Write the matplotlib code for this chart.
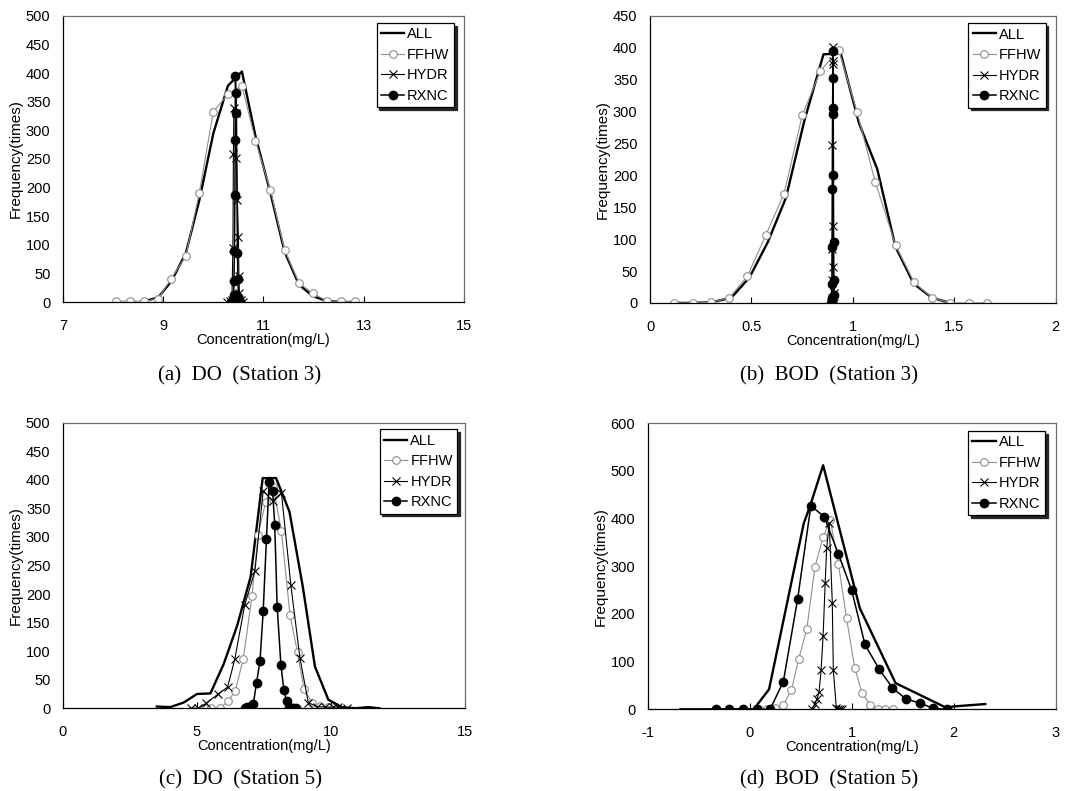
import matplotlib
matplotlib.use("Agg")
import matplotlib.pyplot as plt
from matplotlib.ticker import FuncFormatter

plt.rcParams['font.family'] = ['Liberation Sans', 'DejaVu Sans']

# ---- (a) DO, station 3 ----
a_all_x = [8.61, 8.90, 9.16, 9.45, 9.72, 10.00, 10.29, 10.57, 10.84, 11.14, 11.42, 11.71, 11.99, 12.26, 12.54, 12.82]
a_all_y = [1, 8, 36, 85, 178, 295, 378, 403, 290, 190, 88, 30, 10, 2, 0, 0]
a_ffhw_x = [8.05, 8.33, 8.61, 8.90, 9.16, 9.45, 9.72, 10.00, 10.29, 10.57, 10.84, 11.14, 11.42, 11.71, 11.99, 12.26, 12.54, 12.82]
a_ffhw_y = [1, 2, 1, 6, 41, 80, 191, 333, 363, 378, 282, 195, 91, 33, 15, 2, 1, 1]
a_hydr_x = [10.28, 10.34, 10.37, 10.39, 10.40, 10.41, 10.45, 10.46, 10.48, 10.50, 10.51, 10.52, 10.55, 10.60]
a_hydr_y = [0, 1, 4, 94, 258, 340, 330, 252, 178, 113, 45, 15, 3, 0]
a_rxnc_x = [10.36, 10.39, 10.405, 10.41, 10.42, 10.43, 10.435, 10.44, 10.45, 10.46, 10.48, 10.49, 10.50, 10.53]
a_rxnc_y = [0, 3, 13, 37, 90, 187, 283, 395, 365, 330, 86, 40, 8, 0]

# ---- (b) BOD, station 3 ----
b_all_x = [0.12, 0.21, 0.30, 0.40, 0.49, 0.58, 0.67, 0.76, 0.855, 0.94, 1.03, 1.12, 1.21, 1.30, 1.39, 1.48]
b_all_y = [0, 0, 1, 8, 40, 95, 165, 285, 390, 391, 282, 210, 88, 30, 8, 0]
b_ffhw_x = [0.12, 0.21, 0.30, 0.39, 0.48, 0.57, 0.66, 0.75, 0.84, 0.93, 1.02, 1.11, 1.21, 1.30, 1.39, 1.48, 1.57, 1.66]
b_ffhw_y = [0, 0, 1, 8, 42, 106, 171, 294, 364, 397, 300, 190, 91, 33, 8, 0, 0, 0]
b_hydr_x = [0.893, 0.895, 0.896, 0.897, 0.898, 0.899, 0.900, 0.901, 0.902, 0.903, 0.904, 0.905, 0.907, 0.909]
b_hydr_y = [0, 2, 7, 36, 85, 247, 380, 401, 375, 121, 56, 15, 4, 0]
b_rxnc_x = [0.893, 0.895, 0.896, 0.897, 0.898, 0.899, 0.900, 0.901, 0.902, 0.903, 0.904, 0.905, 0.906, 0.908]
b_rxnc_y = [0, 2, 7, 30, 88, 179, 297, 353, 395, 306, 201, 95, 36, 12]

# ---- (c) DO, station 5 ----
c_all_x = [3.5, 4.0, 4.5, 5.0, 5.5, 6.0, 6.5, 7.0, 7.45, 7.95, 8.45, 8.95, 9.4, 9.9, 10.4, 10.9, 11.4, 11.8]
c_all_y = [3, 2, 10, 25, 26, 78, 145, 230, 403, 403, 344, 212, 73, 15, 2, 0, 2, 0]
c_ffhw_x = [5.25, 5.54, 5.85, 6.16, 6.43, 6.73, 7.05, 7.28, 7.56, 7.84, 8.15, 8.47, 8.75, 8.99, 9.30, 9.58, 9.90, 10.08]
c_ffhw_y = [0, 0, 0, 12, 31, 87, 197, 304, 361, 388, 310, 163, 98, 34, 9, 4, 2, 0]
c_hydr_x = [4.77, 5.04, 5.35, 5.79, 6.14, 6.41, 6.78, 7.16, 7.47, 7.82, 8.15, 8.50, 8.84, 9.15, 9.46, 9.77, 10.08, 10.27, 10.58]
c_hydr_y = [0, 0, 9, 25, 37, 86, 181, 240, 381, 363, 377, 216, 88, 10, 3, 2, 2, 2, 0]
c_rxnc_x = [6.78, 6.87, 7.00, 7.10, 7.22, 7.35, 7.47, 7.59, 7.69, 7.82, 7.90, 7.99, 8.13, 8.24, 8.34, 8.44, 8.59, 8.71]
c_rxnc_y = [0, 2, 4, 8, 44, 83, 171, 296, 397, 380, 321, 178, 76, 32, 12, 2, 0, 0]

# ---- (d) BOD, station 5 ----
d_all_x = [-0.68, 0.04, 0.19, 0.53, 0.59, 0.72, 1.08, 1.43, 1.93, 2.00, 2.31]
d_all_y = [0, 0, 42, 390, 425, 512, 212, 55, 3, 6, 11]
d_ffhw_x = [0.09, 0.17, 0.25, 0.33, 0.41, 0.48, 0.56, 0.64, 0.72, 0.79, 0.87, 0.95, 1.03, 1.10, 1.18, 1.26, 1.33, 1.41]
d_ffhw_y = [0, 0, 2, 9, 41, 105, 168, 299, 361, 397, 305, 191, 87, 35, 10, 0, 0, 0]
d_hydr_x = [0.61, 0.64, 0.66, 0.68, 0.70, 0.72, 0.74, 0.755, 0.78, 0.81, 0.82, 0.85, 0.87, 0.89, 0.91]
d_hydr_y = [0, 12, 22, 36, 82, 154, 264, 338, 390, 224, 82, 2, 1, 0, 0]
d_rxnc_x = [-0.33, -0.20, -0.07, 0.07, 0.20, 0.33, 0.47, 0.60, 0.73, 0.87, 1.00, 1.13, 1.27, 1.40, 1.53, 1.67, 1.80, 1.93]
d_rxnc_y = [0, 0, 0, 0, 0, 58, 231, 427, 404, 326, 250, 136, 84, 45, 22, 13, 2, 0]

captions = ["(a)  DO  (Station 3)", "(b)  BOD  (Station 3)",
            "(c)  DO  (Station 5)", "(d)  BOD  (Station 5)"]


def draw_panel(ax, all_xy, ffhw_xy, hydr_xy, rxnc_xy, xlim, xticks, ylim, ystep, legend_anchor):
    ax.plot(*all_xy, color="black", lw=1.7, label="ALL")
    ax.plot(*ffhw_xy, color="#8f8f8f", lw=0.8, marker="o", ms=5.5,
            mfc="white", mec="#8f8f8f", mew=0.8, label="FFHW")
    ax.plot(*hydr_xy, color="black", lw=0.8, marker="x", ms=6, mew=0.8, label="HYDR")
    ax.plot(*rxnc_xy, color="black", lw=1.1, marker="o", ms=6, mfc="black", label="RXNC")

    ax.set_xlim(*xlim)
    ax.set_ylim(*ylim)
    ax.set_xticks(xticks)
    ax.set_yticks(range(ylim[0], ylim[1] + 1, ystep))
    ax.xaxis.set_major_formatter(FuncFormatter(lambda v, p: "%g" % v))
    ax.tick_params(axis="x", direction="in", length=4, width=0.8, pad=12, labelsize=10.5)
    ax.tick_params(axis="y", length=0, pad=9, labelsize=10.5)
    for side in ["top", "right"]:
        ax.spines[side].set_color("#6e6e6e")
        ax.spines[side].set_linewidth(0.9)
    for side in ["left", "bottom"]:
        ax.spines[side].set_color("black")
        ax.spines[side].set_linewidth(0.9)

    ax.set_xlabel("Concentration(mg/L)", fontsize=10.5, labelpad=0)
    ax.set_ylabel("Frequency(times)", fontsize=11, labelpad=2)

    leg = ax.legend(loc="upper right", bbox_to_anchor=legend_anchor, borderaxespad=0,
                    fontsize=10.5, handlelength=1.6, handletextpad=0.2, labelspacing=0.45,
                    borderpad=0.3, fancybox=False, framealpha=1,
                    shadow={"color": "0.15", "alpha": 1.0})
    leg.get_frame().set_edgecolor("black")
    leg.get_frame().set_linewidth(0.9)


fig = plt.figure(figsize=(10.75, 7.91), dpi=100)

ax_a = fig.add_axes([0.0586, 0.6182, 0.3730, 0.3616])
ax_b = fig.add_axes([0.6047, 0.6170, 0.3774, 0.3628])
ax_c = fig.add_axes([0.0586, 0.1046, 0.3740, 0.3610])
ax_d = fig.add_axes([0.6025, 0.1033, 0.3795, 0.3616])

draw_panel(ax_a, (a_all_x, a_all_y), (a_ffhw_x, a_ffhw_y), (a_hydr_x, a_hydr_y), (a_rxnc_x, a_rxnc_y),
           (7, 15), [7, 9, 11, 13, 15], (0, 500), 50, (0.975, 0.976))
draw_panel(ax_b, (b_all_x, b_all_y), (b_ffhw_x, b_ffhw_y), (b_hydr_x, b_hydr_y), (b_rxnc_x, b_rxnc_y),
           (0, 2), [0, 0.5, 1, 1.5, 2], (0, 450), 50, (0.975, 0.975))
draw_panel(ax_c, (c_all_x, c_all_y), (c_ffhw_x, c_ffhw_y), (c_hydr_x, c_hydr_y), (c_rxnc_x, c_rxnc_y),
           (0, 15), [0, 5, 10, 15], (0, 500), 50, (0.980, 0.977))
draw_panel(ax_d, (d_all_x, d_all_y), (d_ffhw_x, d_ffhw_y), (d_hydr_x, d_hydr_y), (d_rxnc_x, d_rxnc_y),
           (-1, 3), [-1, 0, 1, 2, 3], (0, 600), 100, (0.975, 0.973))

# sub-figure captions
cap_pos = [(0.2233, 0.5250), (0.7710, 0.5250), (0.2233, 0.0139), (0.7710, 0.0139)]
for (cx, cy), text in zip(cap_pos, captions):
    fig.text(cx, cy, text, ha="center", va="center", fontsize=15,
             family=["Liberation Serif", "DejaVu Serif"])

fig.savefig("out.png", dpi=100)
